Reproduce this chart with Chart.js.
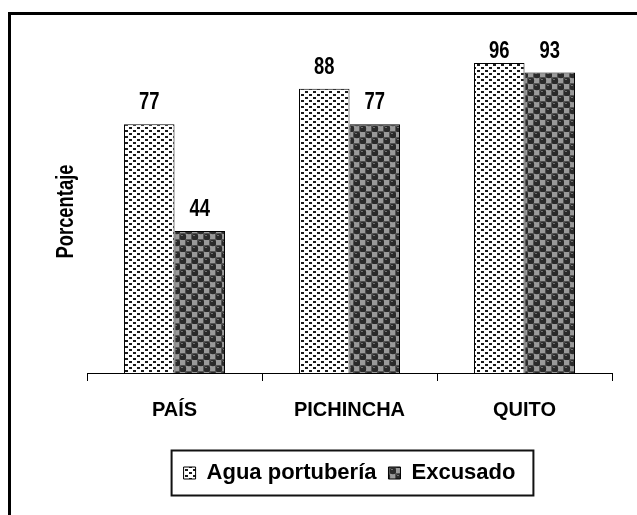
<!DOCTYPE html>
<html>
<head>
<meta charset="utf-8">
<script src="https://cdn.jsdelivr.net/npm/chart.js@4.4.1/dist/chart.umd.min.js"></script>
<style>
  body { margin: 0; background: #fff; }
  canvas { display: block; }
</style>
</head>
<body>
<canvas id="chart" width="637" height="515"></canvas>
<script>
const categories = ['PAÍS', 'PICHINCHA', 'QUITO'];
const seriesNames = ['Agua portubería', 'Excusado'];
const aguaValues = [77, 88, 96];
const excusadoValues = [44, 77, 93];
const yTitle = 'Porcentaje';

const wideFont = "'Liberation Sans', Arial, sans-serif";

let chartCanvas = document.getElementById('chart');
let ctx = chartCanvas.getContext('2d');

// light dotted fill for the water bars
function lightPattern() {
    let c = document.createElement('canvas');
    c.width = 8;
    c.height = 6;
    let g = c.getContext('2d');
    g.fillStyle = '#fff';
    g.fillRect(0, 0, 8, 6);
    g.fillStyle = '#1a1a1a';
    g.fillRect(1, 1, 3, 2);
    g.fillRect(5, 4, 3, 2);
    return ctx.createPattern(c, 'repeat');
}

// dark squares and balls fill for the toilet bars
function darkPattern() {
    let c = document.createElement('canvas');
    c.width = 12;
    c.height = 12;
    let g = c.getContext('2d');
    g.fillStyle = '#555';
    g.fillRect(0, 0, 12, 12);
    g.fillStyle = '#9a9a9a';
    g.fillRect(0, 0, 5, 5);
    g.fillRect(6, 6, 5, 5);
    [[9, 3], [3, 9]].forEach(function (p) {
        g.fillStyle = '#2a2a2a';
        g.beginPath();
        g.arc(p[0], p[1], 3.2, 0, Math.PI * 2);
        g.fill();
        g.fillStyle = '#707070';
        g.fillRect(p[0] - 2, p[1] - 2, 2, 1);
    });
    return ctx.createPattern(c, 'repeat');
}

// narrow bold text: squeeze the normal face sideways
function narrowText(c, text, x, y) {
    c.save();
    c.translate(x, y);
    c.scale(0.8, 1);
    c.fillText(text, 0, 0);
    c.restore();
}

const decorations = {
    id: 'decorations',
    afterDraw(chart) {
        let c = chart.ctx;
        let area = chart.chartArea;
        c.save();

        // outer frame (only top and left edges visible)
        c.strokeStyle = '#000';
        c.lineWidth = 3;
        c.strokeRect(9.5, 13.5, 900, 900);

        // y axis title
        c.save();
        c.translate(67, (area.top + area.bottom) / 2);
        c.rotate(-Math.PI / 2);
        c.fillStyle = '#000';
        c.font = 'bold 23px ' + wideFont;
        c.textAlign = 'center';
        c.textBaseline = 'middle';
        narrowText(c, yTitle, 0, 0);
        c.restore();

        // value labels above bars
        c.fillStyle = '#000';
        c.font = 'bold 23px ' + wideFont;
        c.textAlign = 'center';
        c.textBaseline = 'alphabetic';
        chart.data.datasets.forEach(function (ds, i) {
            chart.getDatasetMeta(i).data.forEach(function (bar, j) {
                let y = Math.max(bar.y - 15, area.top + 8);
                narrowText(c, String(ds.data[j]), bar.x, y);
            });
        });

        // box round the legend
        let boxes = chart.legend.legendHitBoxes;
        if (boxes && boxes.length) {
            let first = boxes[0];
            let last = boxes[boxes.length - 1];
            let mid = first.top + first.height / 2;
            c.strokeStyle = '#111';
            c.lineWidth = 2;
            c.strokeRect(first.left - 12, mid - 22.5, last.left + last.width + 18 - (first.left - 12), 45);
        }
        c.restore();
    }
};

let chartData = {
    labels: categories,
    datasets: [{
        label: seriesNames[0],
        data: aguaValues,
        backgroundColor: lightPattern(),
        borderColor: '#000',
        borderWidth: 1
    }, {
        label: seriesNames[1],
        data: excusadoValues,
        backgroundColor: darkPattern(),
        borderColor: '#000',
        borderWidth: 1
    }]
};

let chartOptions = {
    responsive: false,
    animation: false,
    layout: {
        padding: { left: 87, right: 25, top: 50, bottom: 21 }
    },
    datasets: {
        bar: {
            categoryPercentage: 0.577,
            barPercentage: 1.0
        }
    },
    scales: {
        x: {
            afterFit: function (scale) {
                scale.height += 11;
            },
            grid: {
                display: true,
                drawOnChartArea: false,
                drawTicks: true,
                tickLength: 8,
                color: '#000',
                offset: true
            },
            border: { display: true, color: '#000', width: 1 },
            ticks: {
                color: '#000',
                padding: 17,
                font: { family: wideFont, weight: 'bold', size: 20 }
            }
        },
        y: {
            display: false,
            min: 0,
            max: 100
        }
    },
    plugins: {
        legend: {
            position: 'bottom',
            labels: {
                color: '#000',
                boxWidth: 12,
                boxHeight: 12,
                padding: 12,
                font: { family: wideFont, weight: 'bold', size: 22 }
            }
        },
        tooltip: { enabled: false }
    }
};

let barChart = new Chart(chartCanvas, {
    type: 'bar',
    data: chartData,
    options: chartOptions,
    plugins: [decorations]
});
</script>
</body>
</html>
